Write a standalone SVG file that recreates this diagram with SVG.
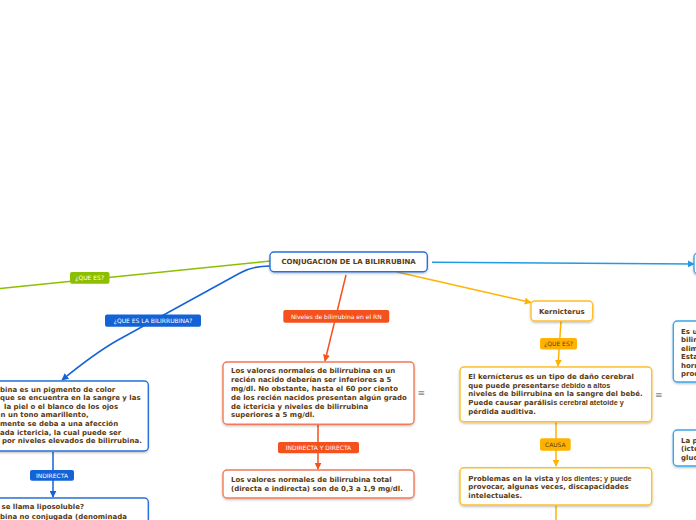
<svg xmlns="http://www.w3.org/2000/svg" width="696" height="520" viewBox="0 0 696 520">
<style>
.t{font-family:"DejaVu Sans",Verdana,sans-serif;font-weight:bold;font-size:7px;fill:#5a3a11}
.lb{font-family:"DejaVu Sans",Verdana,sans-serif;font-size:6px;fill:#fff}
.lbd{font-family:"DejaVu Sans",Verdana,sans-serif;font-size:6px;fill:#5a3a11}
.box{fill:#fff;stroke-width:1.4;filter:url(#sh)}
.menu{font-family:"DejaVu Sans",sans-serif;font-size:9px;fill:#888}
.c{fill:none;stroke-width:1.5}
</style>
<defs>
<filter id="sh" x="-10%" y="-20%" width="120%" height="150%">
<feDropShadow dx="0" dy="1.2" stdDeviation="1" flood-color="#000" flood-opacity="0.25"/>
</filter>
<marker id="ab" viewBox="0 0 10 10" refX="9" refY="5" markerWidth="7" markerHeight="7" markerUnits="userSpaceOnUse" orient="auto"><path d="M0,0 L10,5 L0,10 z" fill="#1463d6"/></marker>
<marker id="ar" viewBox="0 0 10 10" refX="9" refY="5" markerWidth="7" markerHeight="7" markerUnits="userSpaceOnUse" orient="auto"><path d="M0,0 L10,5 L0,10 z" fill="#f4511e"/></marker>
<marker id="aa" viewBox="0 0 10 10" refX="9" refY="5" markerWidth="7" markerHeight="7" markerUnits="userSpaceOnUse" orient="auto"><path d="M0,0 L10,5 L0,10 z" fill="#ffb300"/></marker>
<marker id="al" viewBox="0 0 10 10" refX="9" refY="5" markerWidth="7" markerHeight="7" markerUnits="userSpaceOnUse" orient="auto"><path d="M0,0 L10,5 L0,10 z" fill="#239be0"/></marker>
</defs>

<g id="connectors">
<path class="c" d="M270,261 L0,288.5" stroke="#8cbf00"/>
<path class="c" d="M270,266 Q252,266 240,273 L118,340 Q95,353 62,380" stroke="#1463d6" marker-end="url(#ab)"/>
<path class="c" d="M346,275 L325,361" stroke="#f4511e" marker-end="url(#ar)"/>
<path class="c" d="M397,272 L531,302.5" stroke="#ffb300" marker-end="url(#aa)"/>
<path class="c" d="M432,262.3 L694,264" stroke="#239be0" marker-end="url(#al)"/>
<path class="c" d="M561,321 L558,366" stroke="#ffb300" marker-end="url(#aa)"/>
<path class="c" d="M318,424 L318,469" stroke="#f4511e" marker-end="url(#ar)"/>
<path class="c" d="M556,422 L556,466" stroke="#ffb300" marker-end="url(#aa)"/>
<path class="c" d="M556,506 L556,520" stroke="#ffb300"/>
<path class="c" d="M53,452 L53,497" stroke="#1463d6" marker-end="url(#ab)"/>
</g>

<g id="label-que-es">
<rect x="70" y="272" width="39.5" height="11.7" rx="2" fill="#8cbf00"/>
<text class="lb" x="89.7" y="280.2" text-anchor="middle">¿QUE ES?</text>
</g>
<g id="label-que-es-bilirrubina">
<rect x="105" y="314.5" width="96" height="12.3" rx="2" fill="#1463d6"/>
<text class="lb" x="153" y="322.8" text-anchor="middle">¿QUE ES LA BILIRRUBINA?</text>
</g>
<g id="label-niveles">
<rect x="283.3" y="310" width="106" height="12.7" rx="2" fill="#f4511e"/>
<text class="lb" x="336.3" y="318.6" text-anchor="middle">Niveles de bilirrubina en el RN</text>
</g>
<g id="label-indirecta-directa">
<rect x="278" y="442" width="81" height="11.3" rx="2" fill="#f4511e"/>
<text class="lb" x="318.5" y="450" text-anchor="middle">INDIRECTA Y DIRECTA</text>
</g>
<g id="label-indirecta">
<rect x="30" y="470" width="44" height="10.7" rx="2" fill="#1463d6"/>
<text class="lb" x="52" y="477.7" text-anchor="middle">INDIRECTA</text>
</g>
<g id="label-que-es-k">
<rect x="540" y="338" width="37" height="11.5" rx="2" fill="#ffb300"/>
<text class="lbd" x="558.5" y="346" text-anchor="middle">¿QUE ES?</text>
</g>
<g id="label-causa">
<rect x="540" y="438.3" width="30.7" height="12.4" rx="2" fill="#ffb300"/>
<text class="lbd" x="555.3" y="446.7" text-anchor="middle">CAUSA</text>
</g>

<g id="central">
<rect class="box" x="270" y="252" width="157.3" height="19.7" rx="4" stroke="#2a72da"/>
<text class="t" x="348.6" y="264.2" text-anchor="middle">CONJUGACION DE LA BILIRRUBINA</text>
</g>

<g id="node-bilirrubina">
<rect class="box" x="-10" y="381" width="158.3" height="70" rx="4" stroke="#2a72da"/>
<text class="t" x="0" y="391.6">bina es un pigmento de color</text>
<text class="t" x="0" y="400.2">que se encuentra en la sangre y las</text>
<text class="t" x="4" y="408.8">la piel o el blanco de los ojos</text>
<text class="t" x="0.5" y="417.4">n un tono amarillento,</text>
<text class="t" x="0" y="426">mente se deba a una afección</text>
<text class="t" x="0" y="434.6">ada ictericia, la cual puede ser</text>
<text class="t" x="2" y="443.2">por niveles elevados de bilirrubina.</text>
</g>

<g id="node-liposoluble">
<rect class="box" x="-10" y="498" width="158.3" height="40" rx="4" stroke="#2a72da"/>
<text class="t" x="1.5" y="509">se llama liposoluble?</text>
<text class="t" x="0" y="519">bina no conjugada (denominada</text>
</g>

<g id="node-valores">
<rect class="box" x="223" y="362" width="191" height="62.3" rx="4" stroke="#f27a58"/>
<text class="t" x="231" y="373.4">Los valores normales de bilirrubina en un</text>
<text class="t" x="231" y="382.2">recién nacido deberían ser inferiores a 5</text>
<text class="t" x="231" y="391">mg/dl. No obstante, hasta el 60 por ciento</text>
<text class="t" x="231" y="399.8">de los recién nacidos presentan algún grado</text>
<text class="t" x="231" y="408.6">de ictericia y niveles de bilirrubina</text>
<text class="t" x="231" y="417.4">superiores a 5 mg/dl.</text>
<text class="menu" x="417.5" y="395.5">≡</text>
</g>

<g id="node-total">
<rect class="box" x="223" y="470" width="191" height="28" rx="4" stroke="#f27a58"/>
<text class="t" x="231" y="481.6">Los valores normales de bilirrubina total</text>
<text class="t" x="231" y="490.5">(directa e indirecta) son de 0,3 a 1,9 mg/dl.</text>
</g>

<g id="node-kernicterus">
<rect class="box" x="531" y="301" width="61.7" height="20" rx="4" stroke="#ffbf2a"/>
<text class="t" x="561.8" y="313.5" text-anchor="middle">Kernicterus</text>
</g>

<g id="node-kern-def">
<rect class="box" x="460" y="367" width="191.7" height="54.7" rx="4" stroke="#ffbf2a"/>
<text class="t" x="468.3" y="379">El kernícterus es un tipo de daño cerebral</text>
<text class="t" x="468.3" y="387.6">que puede presentars<tspan font-family="Liberation Sans, Arial, sans-serif" font-size="7.3px">e debido a altos</tspan></text>
<text class="t" x="468.3" y="396.4">niveles de bilirrubina en la sangre del bebé.</text>
<text class="t" x="468.3" y="405">Puede causar parálisi<tspan font-family="Liberation Sans, Arial, sans-serif" font-size="7.3px">s cerebral atetoide y</tspan></text>
<text class="t" x="468.3" y="413.8">pérdida auditiva.</text>
<text class="menu" x="655" y="397.5">≡</text>
</g>

<g id="node-problemas">
<rect class="box" x="460" y="467.7" width="191.7" height="37.3" rx="4" stroke="#ffbf2a"/>
<text class="t" x="468.3" y="480.5">Problemas en la vista<tspan font-family="Liberation Sans, Arial, sans-serif" font-size="7.3px"> y los dientes; y puede</tspan></text>
<text class="t" x="468.3" y="489">provocar, algunas veces, discapacidades</text>
<text class="t" x="468.3" y="497.5">intelectuales.</text>
</g>

<g id="node-right-top">
<rect class="box" x="694" y="253" width="30" height="21" rx="4" stroke="#3aa6ea"/>
</g>

<g id="node-right-1">
<rect class="box" x="673.3" y="321" width="40" height="61" rx="4" stroke="#3aa6ea"/>
<text class="t" x="681" y="333.5">Es u</text>
<text class="t" x="681" y="342">bilir</text>
<text class="t" x="681" y="350.5">elim</text>
<text class="t" x="681" y="359">Esta</text>
<text class="t" x="681" y="367.5">horm</text>
<text class="t" x="681" y="376">prod</text>
</g>

<g id="node-right-2">
<rect class="box" x="673.3" y="430" width="40" height="36" rx="4" stroke="#3aa6ea"/>
<text class="t" x="681" y="442.5">La p</text>
<text class="t" x="681" y="451">(icte</text>
<text class="t" x="681" y="459.5">gluc</text>
</g>
</svg>
